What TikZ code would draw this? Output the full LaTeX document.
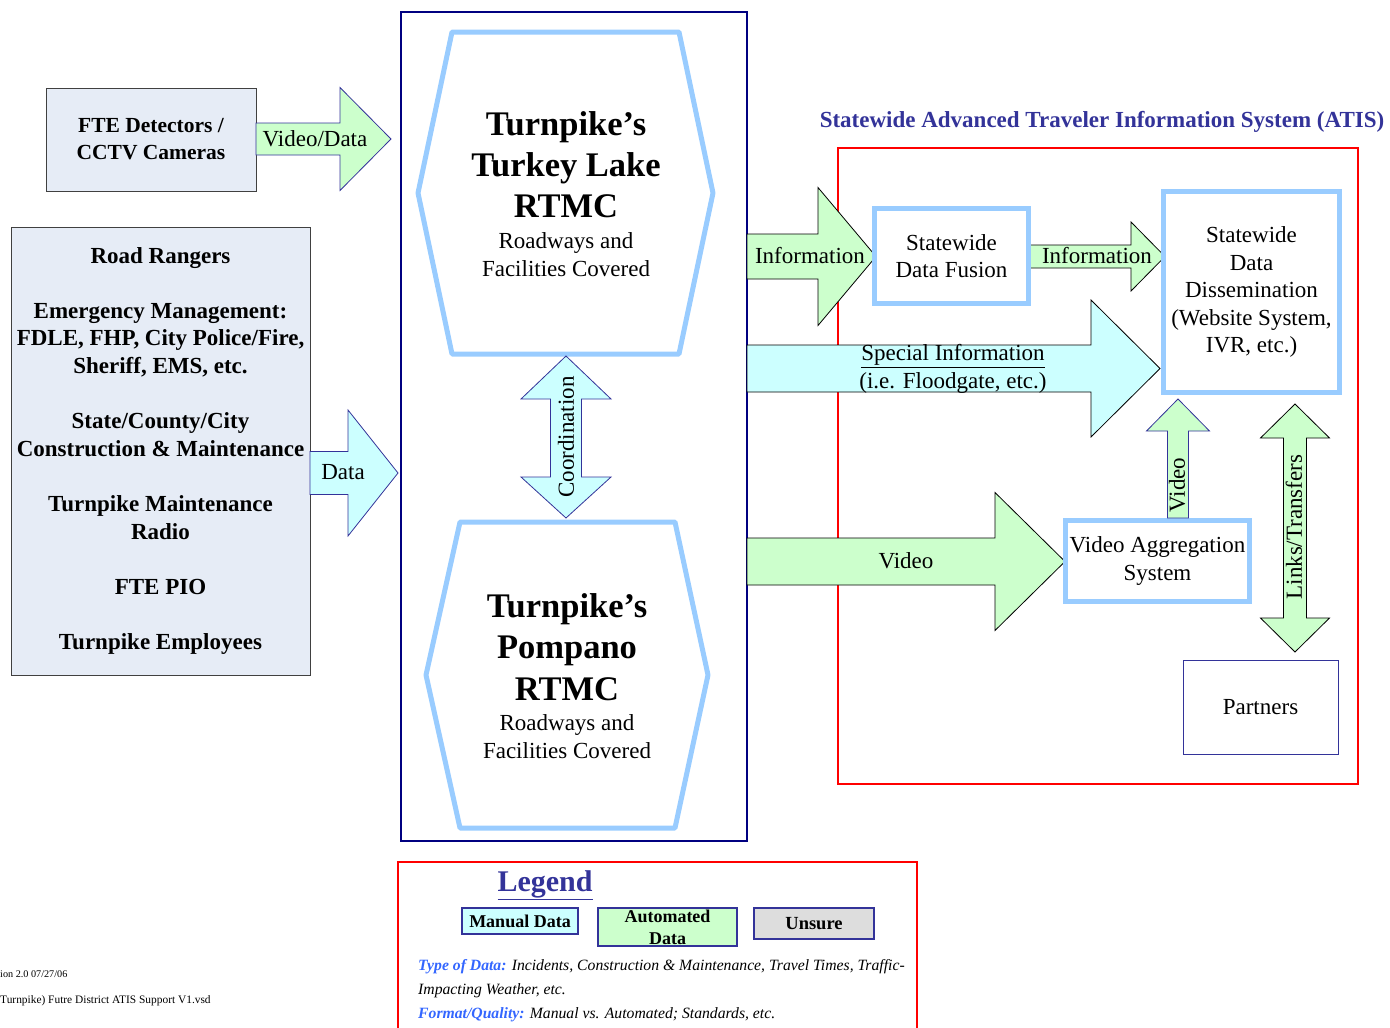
\documentclass[tikz,border=0pt]{standalone}
\usepackage{fontspec}
\setmainfont{Liberation Serif}
\definecolor{hexblue}{HTML}{99CCFF}
\definecolor{lgreen}{HTML}{CCFFCC}
\definecolor{lcyan}{HTML}{CCFFFF}
\definecolor{boxgray}{HTML}{E6ECF6}
\definecolor{navy}{HTML}{000080}
\definecolor{titlenavy}{HTML}{333399}
\definecolor{legblue}{HTML}{3366FF}
\definecolor{unsuregray}{HTML}{DDDDDD}
\newcommand{\blkarrR}[7]{% style, x0, xh, xt, yc, shaft half, head half
  \draw[#1] (#2,#5-#6) -- (#3,#5-#6) -- (#3,#5-#7) -- (#4,#5) -- (#3,#5+#7) -- (#3,#5+#6) -- (#2,#5+#6) -- cycle;}
\begin{document}
\begin{tikzpicture}[x=1pt,y=-1pt,
  reg/.style={align=center, inner sep=0pt, font=\fontsize{23}{27.5}\selectfont},
  srcbox/.style={draw=black!75, fill=boxgray, line width=0.9pt, inner sep=0pt, align=center},
  thickbox/.style={draw=hexblue, line width=5pt, fill=white, inner sep=0pt, align=center, font=\fontsize{23}{27.5}\selectfont},
  hexline/.style={draw=hexblue, line width=5pt, line join=round, fill=white},
  greenarr/.style={fill=lgreen, draw=black, line width=0.8pt, line join=miter},
  greenarrN/.style={fill=lgreen, draw=titlenavy, line width=0.8pt},
  cyanarr/.style={fill=lcyan, draw=black, line width=0.8pt},
  cyanarrN/.style={fill=lcyan, draw=titlenavy, line width=0.8pt},
  legbox/.style={draw=titlenavy, line width=1.2pt, inner sep=0pt, align=center}
]
\useasboundingbox (0,0) rectangle (1390,1028);

% containers
\draw[navy, line width=1.1pt] (401,12) rectangle (747,841);
\draw[red, line width=1.1pt] (838,148) rectangle (1358,784);
\node[font=\fontsize{23}{27}\selectfont\bfseries, text=titlenavy, inner sep=0pt] (atis) at (1102,122) {Statewide Advanced Traveler Information System (ATIS)};

% left sources
\node[srcbox, minimum width=210, minimum height=103, font=\fontsize{21.5}{27}\selectfont\bfseries] (fte) at (151,139.5) {FTE Detectors /\\CCTV Cameras};
\node[srcbox, minimum width=299, minimum height=448, font=\fontsize{23}{27.64}\selectfont\bfseries] (src) at (160.5,451) {Road Rangers\\[27.64pt]
Emergency Management:\\FDLE, FHP, City Police/Fire,\\Sheriff, EMS, etc.\\[27.64pt]
State/County/City\\Construction \& Maintenance\\[27.64pt]
Turnpike Maintenance\\Radio\\[27.64pt]
FTE PIO\\[27.64pt]
Turnpike Employees};

% arrows from sources
\blkarrR{greenarrN}{256}{340}{391}{139}{16}{51.5}
\node[reg] (lvd) at (315,139) {Video/Data};
\blkarrR{cyanarrN}{310}{348}{398}{473}{21.5}{63}
\node[reg] (ld) at (343,472) {Data};

% hexagons
\draw[hexline] (452,32) -- (679,32) -- (713,193) -- (679,354) -- (452,354) -- (418,193) -- cycle;
\node[align=center, inner sep=0pt, font=\fontsize{34.5}{41}\selectfont\bfseries] (tlt) at (566,165) {Turnpike’s\\Turkey Lake\\RTMC};
\node[reg, font=\fontsize{23}{28}\selectfont] (tls) at (566,255) {Roadways and\\Facilities Covered};

\draw[hexline] (460,522) -- (675,522) -- (708,675) -- (675,828) -- (460,828) -- (426,675) -- cycle;
\node[align=center, inner sep=0pt, font=\fontsize{34.5}{41.5}\selectfont\bfseries] (pt) at (567,647) {Turnpike’s\\Pompano\\RTMC};
\node[reg, font=\fontsize{23}{28}\selectfont] (ps) at (567,737) {Roadways and\\Facilities Covered};

% coordination double arrow
\draw[cyanarrN] (566,356) -- (611,399) -- (581.5,399) -- (581.5,477) -- (611,477) -- (566,518) -- (521,477) -- (550.5,477) -- (550.5,399) -- (521,399) -- cycle;
\node[reg, rotate=90] (coord) at (566,437) {Coordination};

% outgoing arrows
\blkarrR{greenarr}{747}{818}{876}{256.5}{22.5}{69}
\node[reg] (inf1) at (810,256) {Information};
\blkarrR{cyanarr}{747}{1091}{1160}{368.5}{23.5}{68.5}
\node[reg] (spec) at (953,369) {\underline{Special Information}\\(i.e. Floodgate, etc.)};
\blkarrR{greenarr}{747}{995}{1065}{561.5}{23.5}{69}
\node[reg] (vid) at (906,561) {Video};
\blkarrR{greenarr}{1030}{1131}{1165}{256.5}{11.5}{34.5}
\node[reg] (inf2) at (1097,256) {Information};

% ATIS boxes
\node[thickbox, minimum width=154, minimum height=95] (fusion) at (951.5,256) {Statewide\\Data Fusion};
\node[thickbox, minimum width=176, minimum height=201] (dissem) at (1251.5,292) {Statewide\\Data\\Dissemination\\(Website System,\\IVR, etc.)};
\node[thickbox, minimum width=184, minimum height=81] (vagg) at (1157.5,561) {Video Aggregation\\System};
\node[draw=titlenavy, line width=0.9pt, minimum width=155, minimum height=94, font=\fontsize{23}{27.5}\selectfont] (partners) at (1260.5,707) {Partners};

% video up arrow
\draw[greenarrN] (1178,399) -- (1209.5,431) -- (1188.5,431) -- (1188.5,518) -- (1167.5,518) -- (1167.5,431) -- (1146.5,431) -- cycle;
\node[reg, rotate=90] (vup) at (1177,485) {Video};

% links/transfers double arrow
\draw[greenarr] (1295,404) -- (1329.5,438) -- (1306.5,438) -- (1306.5,618) -- (1329.5,618) -- (1295,652) -- (1260.5,618) -- (1283.5,618) -- (1283.5,438) -- (1260.5,438) -- cycle;
\node[reg, rotate=90] (links) at (1294,527) {Links/Transfers};

% legend
\draw[red, line width=1.1pt] (398,1030) -- (398,862) -- (917,862) -- (917,1030);
\node[inner sep=0pt, text=titlenavy, font=\fontsize{30}{34}\selectfont\bfseries] (legend) at (545,885) {\underline{Legend}};
\node[legbox, fill=lcyan, minimum width=116, minimum height=26, font=\fontsize{18}{22}\selectfont\bfseries] (lman) at (520,921) {Manual Data};
\node[legbox, fill=lgreen, minimum width=139, minimum height=38, font=\fontsize{18}{22}\selectfont\bfseries] (lauto) at (667.5,927) {Automated\\Data};
\node[legbox, fill=unsuregray, minimum width=120, minimum height=31, font=\fontsize{18.5}{22}\selectfont\bfseries] (lunsure) at (814,923.5) {Unsure};
\node[anchor=west, inner sep=0pt, align=left, font=\fontsize{15.7}{24}\selectfont\itshape] (ltext) at (418,991) {{\bfseries\color{legblue}Type of Data:} Incidents, Construction \& Maintenance, Travel Times, Traffic-\\Impacting Weather, etc.\\{\bfseries\color{legblue}Format/Quality:} Manual vs. Automated; Standards, etc.};

% footer
\node[anchor=west, inner sep=0pt, font=\fontsize{10.2}{12}\selectfont] (ver) at (0,974) {ion 2.0 07/27/06};
\node[anchor=west, inner sep=0pt, font=\fontsize{11.4}{13}\selectfont] (fname) at (0,1001) {Turnpike) Futre District ATIS Support V1.vsd};
\end{tikzpicture}
\end{document}
